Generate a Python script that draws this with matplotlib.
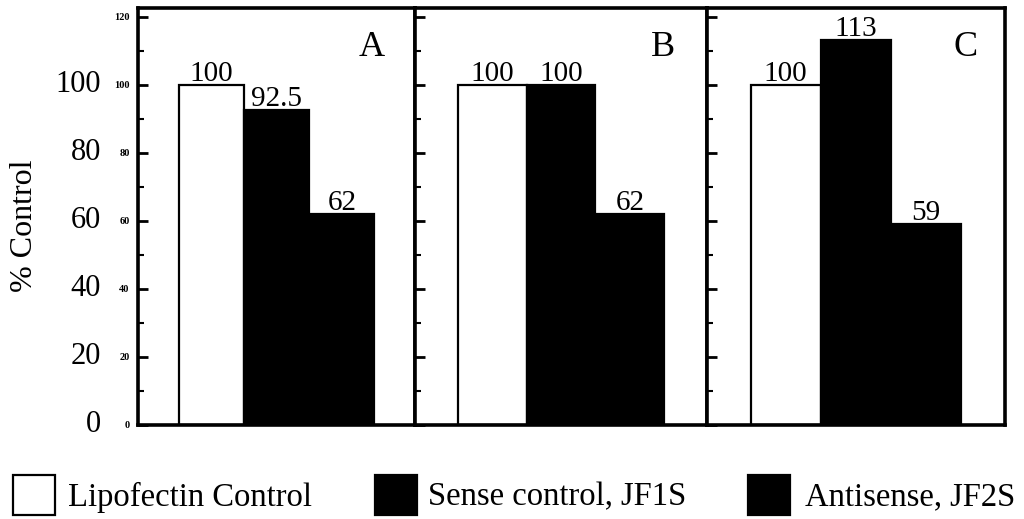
import matplotlib
matplotlib.use("Agg")
import matplotlib.pyplot as plt
from matplotlib.patches import Rectangle
from matplotlib.ticker import MultipleLocator

plt.rcParams['font.family'] = ['Liberation Serif', 'DejaVu Serif']

panels = ["A", "B", "C"]
series = ["Lipofectin Control", "Sense control, JF1S", "Antisense, JF2S"]
values = {
    "A": [100, 92.5, 62],
    "B": [100, 100, 62],
    "C": [100, 113, 59],
}
value_labels = {
    "A": ["100", "92.5", "62"],
    "B": ["100", "100", "62"],
    "C": ["100", "113", "59"],
}
colors = ["white", "black", "black"]
big_ticks = [0, 20, 40, 60, 80, 100]
small_ticks = [0, 20, 40, 60, 80, 100, 120]

W, H = 1024, 519
fig = plt.figure(figsize=(W / 100, H / 100), dpi=100)

# panel pixel extents
edges = [138, 415, 707, 1005]
label_x = [0.845, 0.85, 0.866]
top_px, bot_px = 8, 425
for i, p in enumerate(panels):
    l, r = edges[i], edges[i + 1]
    ax = fig.add_axes([l / W, 1 - bot_px / H, (r - l) / W, (bot_px - top_px) / H])
    vals = values[p]
    x = [0, 1, 2]
    ax.bar(x, vals, width=1.0, color=colors, edgecolor="black", linewidth=1.6)
    for xi, v, lab in zip(x, vals, value_labels[p]):
        ax.text(xi, v - 0.6, lab, ha="center", va="bottom", fontsize=21)
    ax.text(label_x[i], 0.905, p, transform=ax.transAxes, ha="center", va="center", fontsize=26)
    ax.set_ylim(0, 122.5)
    ax.set_xlim(-1.12, 3.12)
    ax.set_xticks([])
    for s in ax.spines.values():
        s.set_linewidth(2.6)
    ax.yaxis.set_major_locator(MultipleLocator(20))
    ax.yaxis.set_minor_locator(MultipleLocator(10))
    ax.tick_params(axis="y", which="major", direction="in", length=7, width=2)
    ax.tick_params(axis="y", which="minor", direction="in", length=4, width=1.5)
    if i == 0:
        ax.set_yticks(small_ticks)
        ax.set_yticklabels([str(t) for t in small_ticks], fontsize=7.5, fontweight="bold")
        ax.tick_params(axis="y", which="major", pad=6)
        for t in big_ticks:
            ax.annotate(str(t), xy=(0, t), xycoords=("axes fraction", "data"),
                        xytext=(-37, 0), textcoords="offset pixels",
                        ha="right", va="center", fontsize=22)
    else:
        ax.set_yticklabels([])

fig.text(25 / W, 1 - 226 / H, "% Control", rotation=90, ha="center", va="center", fontsize=23)

# legend (manual placement)
sq_x = [13, 375, 748]
txt_x = [68, 428, 805]
sq_w, sq_top, sq_bot = 42, 475, 515
for c, name, sx, tx in zip(colors, series, sq_x, txt_x):
    fig.add_artist(Rectangle((sx / W, 1 - sq_bot / H), sq_w / W, (sq_bot - sq_top) / H,
                             transform=fig.transFigure, facecolor=c, edgecolor="black",
                             linewidth=1.6))
    fig.text(tx / W, 1 - 497 / H, name, ha="left", va="center", fontsize=23.5)

fig.savefig("out.png", dpi=100)
